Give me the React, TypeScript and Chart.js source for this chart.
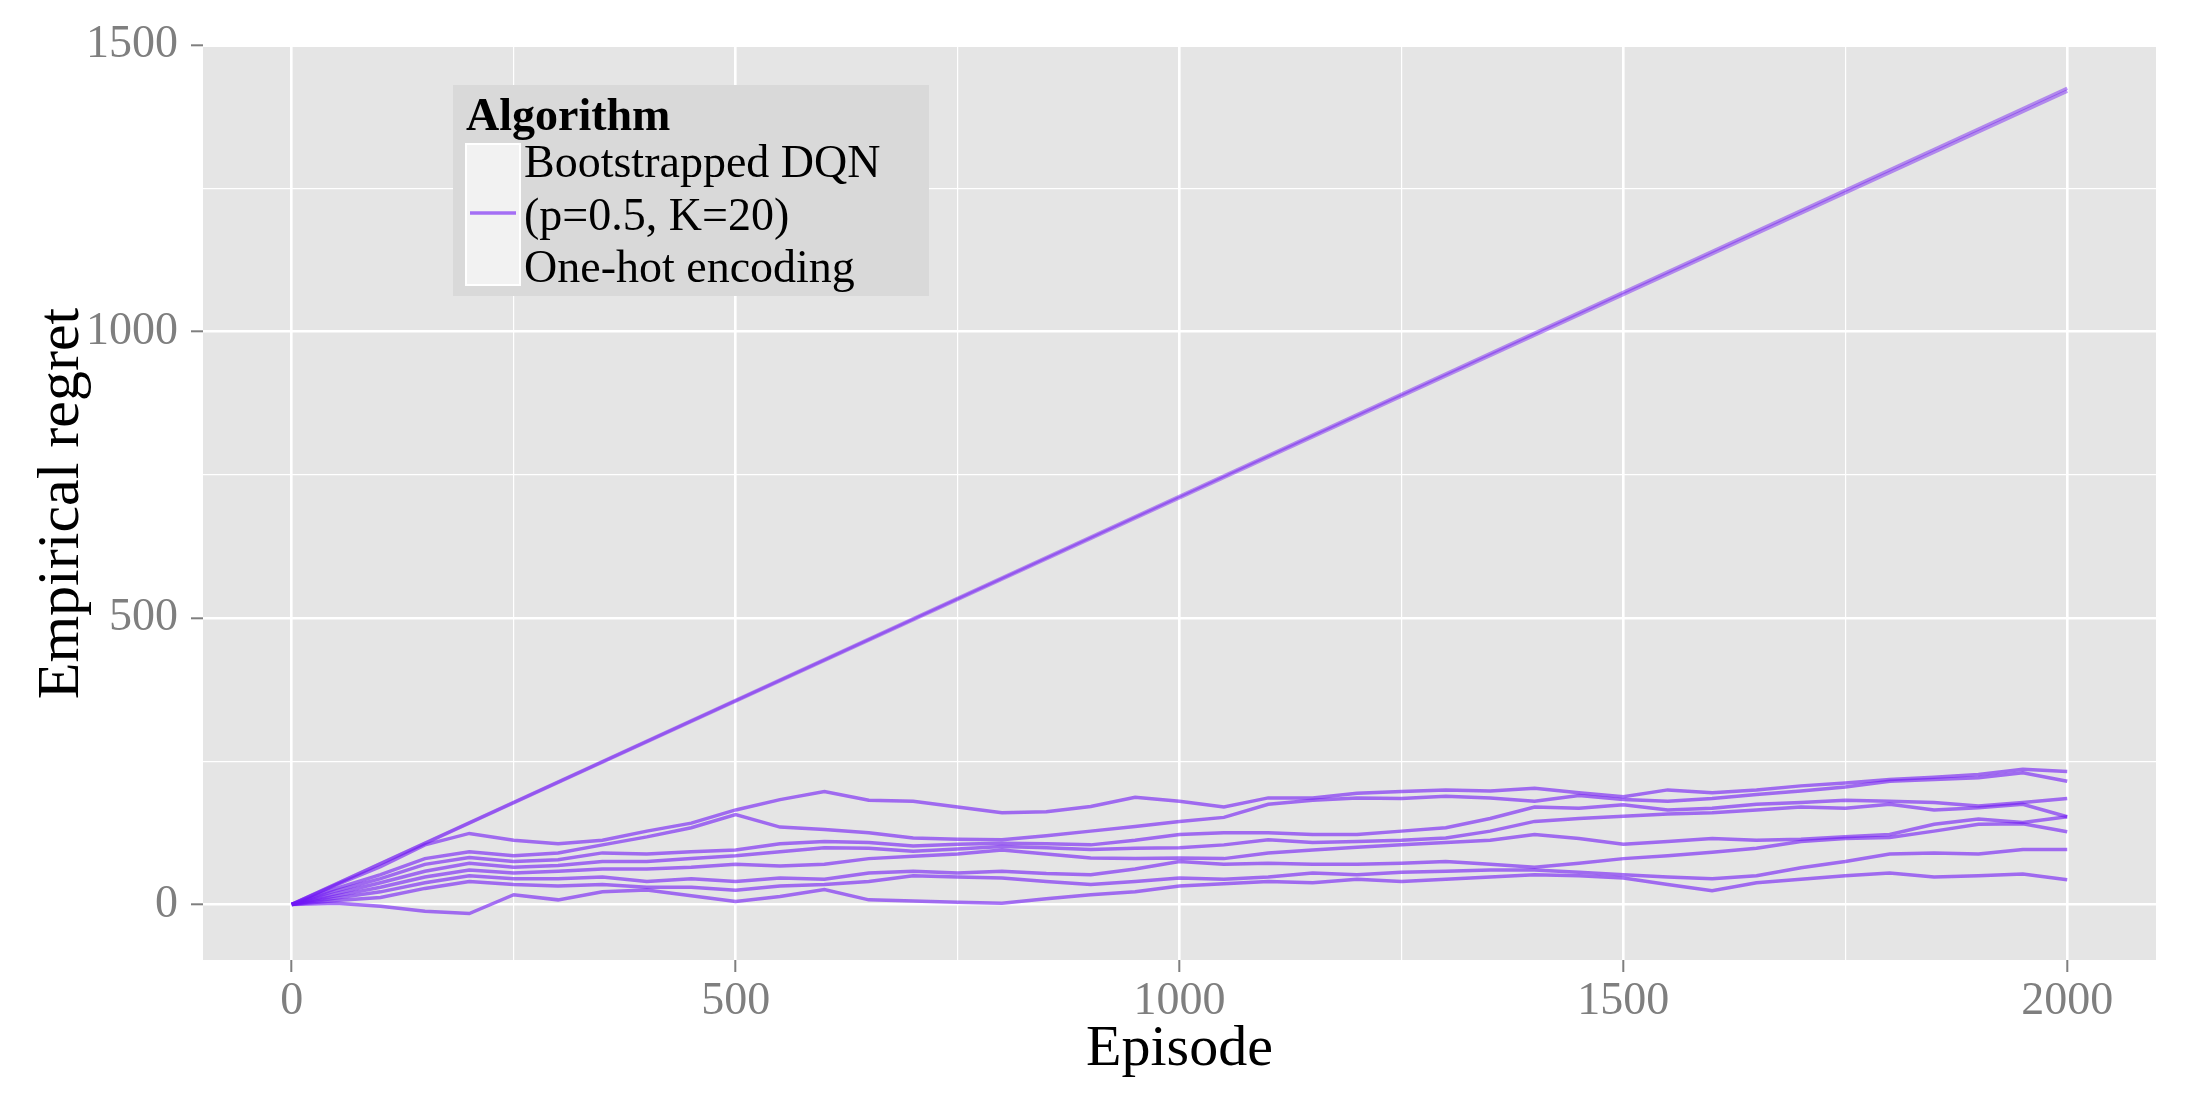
import React, { useEffect, useRef } from "react";
import { Chart, registerables } from "chart.js";

Chart.register(...registerables);

// episodes sampled every 50 steps
const episodes = [
  0, 50, 100, 150, 200, 250, 300, 350, 400, 450, 500, 550, 600, 650, 700, 750, 800, 850, 900, 950, 1000,
  1050, 1100, 1150, 1200, 1250, 1300, 1350, 1400, 1450, 1500, 1550, 1600, 1650, 1700, 1750, 1800, 1850,
  1900, 1950, 2000,
];

// cumulative regret of the eight seeds that learn
const run1 = [0, 34, 66, 104, 124, 112, 106, 112, 128, 142, 165, 183, 197, 182, 180, 170, 160, 162, 171, 187, 180, 170, 186, 186, 194, 197, 200, 198, 203, 195, 188, 200, 195, 200, 207, 212, 218, 222, 227, 236, 232];
const run2 = [0, 28, 52, 80, 92, 85, 90, 104, 118, 134, 157, 135, 131, 125, 116, 114, 113, 120, 128, 136, 145, 152, 175, 182, 186, 185, 189, 186, 180, 190, 183, 180, 185, 192, 198, 205, 215, 218, 221, 230, 215];
const run3 = [0, 24, 45, 70, 82, 75, 78, 90, 88, 92, 95, 106, 110, 108, 102, 105, 107, 106, 104, 112, 122, 125, 125, 122, 122, 128, 134, 150, 170, 168, 174, 165, 168, 175, 178, 182, 180, 178, 172, 178, 185];
const run4 = [0, 19, 38, 58, 72, 65, 68, 75, 75, 80, 85, 92, 99, 98, 93, 97, 101, 99, 96, 98, 99, 104, 113, 108, 110, 112, 116, 128, 145, 150, 154, 158, 160, 165, 170, 168, 175, 165, 169, 175, 153];
const run5 = [0, 15, 30, 48, 60, 55, 58, 62, 62, 65, 70, 67, 70, 80, 84, 88, 95, 88, 81, 80, 81, 80, 90, 95, 100, 104, 108, 112, 122, 115, 105, 110, 115, 112, 114, 118, 122, 140, 149, 143, 153];
const run6 = [0, 11, 22, 38, 50, 45, 45, 48, 40, 45, 40, 46, 44, 55, 58, 55, 58, 54, 52, 62, 75, 70, 72, 70, 70, 72, 75, 70, 65, 72, 80, 85, 91, 98, 110, 115, 117, 128, 140, 141, 127];
const run7 = [0, 7, 12, 28, 40, 35, 32, 35, 30, 30, 25, 32, 35, 40, 50, 48, 46, 40, 35, 40, 46, 44, 48, 55, 52, 56, 58, 60, 60, 56, 52, 48, 45, 50, 64, 75, 88, 90, 88, 96, 96];
const run8 = [0, 2, -3, -12, -16, 17, 8, 22, 25, 15, 5, 14, 26, 8, 6, 4, 2, 10, 17, 22, 32, 36, 40, 38, 44, 40, 44, 48, 52, 50, 46, 35, 24, 38, 44, 50, 55, 48, 50, 53, 43];

// the two seeds that never learn (regret grows linearly)
const linearEpisodes = [0, 2000];
const linearRunA = [0, 1425];
const linearRunB = [0, 1420];

const xTicks = [0, 250, 500, 750, 1000, 1250, 1500, 1750, 2000];
const xLabelled = [0, 500, 1000, 1500, 2000];
const yTicks = [0, 250, 500, 750, 1000, 1250, 1500];
const yLabelled = [0, 500, 1000, 1500];

const legendTitle = "Algorithm";
const legendLines = ["Bootstrapped DQN", "(p=0.5, K=20)", "One-hot encoding"];

const LINE_COLOR = "rgba(112, 24, 245, 0.6)";
const LINEAR_COLOR = "rgba(112, 24, 245, 0.45)";
const SERIF = "'Liberation Serif', 'Times New Roman', serif";

const panelBackground = {
  id: "panelBackground",
  beforeDraw(chart: Chart) {
    const { ctx, chartArea } = chart;
    ctx.save();
    ctx.fillStyle = "#e5e5e5";
    ctx.fillRect(chartArea.left, chartArea.top, chartArea.right - chartArea.left, chartArea.bottom - chartArea.top);
    ctx.restore();
  },
};

const ggLegend = {
  id: "ggLegend",
  afterDraw(chart: Chart) {
    const { ctx } = chart;
    ctx.save();
    ctx.fillStyle = "#d9d9d9";
    ctx.fillRect(453, 85, 476, 211);

    ctx.fillStyle = "#000";
    ctx.textBaseline = "alphabetic";
    ctx.textAlign = "left";
    ctx.font = `bold 46px ${SERIF}`;
    ctx.fillText(legendTitle, 466, 130);

    ctx.fillStyle = "#f2f2f2";
    ctx.fillRect(466, 144, 54, 141);
    ctx.strokeStyle = "#ffffff";
    ctx.lineWidth = 2;
    ctx.strokeRect(466, 144, 54, 141);

    ctx.strokeStyle = LINE_COLOR;
    ctx.lineWidth = 3.5;
    ctx.beginPath();
    ctx.moveTo(470, 213);
    ctx.lineTo(516, 213);
    ctx.stroke();

    ctx.fillStyle = "#000";
    ctx.font = `46px ${SERIF}`;
    const baselines = [177, 230, 282];
    legendLines.forEach((t, i) => ctx.fillText(t, 524, baselines[i]));
    ctx.restore();
  },
};

const App: React.FC = () => {
  const canvasRef = useRef<HTMLCanvasElement | null>(null);

  useEffect(() => {
    if (!canvasRef.current) return;

    const runs = [run1, run2, run3, run4, run5, run6, run7, run8];
    const walkSets = runs.map((run, i) => ({
      label: `seed ${i + 1}`,
      data: run.map((v, j) => ({ x: episodes[j], y: v })),
      borderColor: LINE_COLOR,
      borderWidth: 3.5,
      pointRadius: 0,
      tension: 0,
      fill: false,
    }));
    const linearSets = [linearRunA, linearRunB].map((run, i) => ({
      label: `seed ${9 + i}`,
      data: run.map((v, j) => ({ x: linearEpisodes[j], y: v })),
      borderColor: LINEAR_COLOR,
      borderWidth: 3.5,
      pointRadius: 0,
      tension: 0,
      fill: false,
    }));

    const chart = new Chart(canvasRef.current, {
      type: "line",
      data: { datasets: [...walkSets, ...linearSets] },
      options: {
        animation: false,
        responsive: true,
        maintainAspectRatio: false,
        layout: { padding: { top: 47, right: 44, left: 0, bottom: 0 } },
        plugins: { legend: { display: false }, tooltip: { enabled: false } },
        scales: {
          x: {
            type: "linear",
            min: -100,
            max: 2100,
            afterBuildTicks: (axis: any) => {
              axis.ticks = xTicks.map((v) => ({ value: v }));
            },
            afterFit: (axis: any) => {
              axis.height = 140;
            },
            border: { display: false },
            grid: {
              color: "#ffffff",
              lineWidth: (c: any) => (xLabelled.includes(c.tick?.value) ? 2.6 : 1.2),
              tickColor: (c: any) => (xLabelled.includes(c.tick?.value) ? "#7f7f7f" : "rgba(0,0,0,0)"),
              tickWidth: 2,
              tickLength: 12,
            },
            ticks: {
              autoSkip: false,
              maxRotation: 0,
              padding: 2,
              color: "#7f7f7f",
              font: { family: SERIF, size: 46 },
              callback: (v: any) => (xLabelled.includes(v) ? String(v) : ""),
            },
            title: {
              display: true,
              text: "Episode",
              color: "#000",
              font: { family: SERIF, size: 58 },
              padding: { top: 0, bottom: 15 },
            },
          },
          y: {
            type: "linear",
            min: -97,
            max: 1497,
            afterBuildTicks: (axis: any) => {
              axis.ticks = yTicks.map((v) => ({ value: v }));
            },
            afterFit: (axis: any) => {
              axis.width = 203;
            },
            border: { display: false },
            grid: {
              color: "#ffffff",
              lineWidth: (c: any) => (yLabelled.includes(c.tick?.value) ? 2.6 : 1.2),
              tickColor: (c: any) => (yLabelled.includes(c.tick?.value) ? "#7f7f7f" : "rgba(0,0,0,0)"),
              tickWidth: 2,
              tickLength: 12,
            },
            ticks: {
              autoSkip: false,
              padding: 13,
              color: "#7f7f7f",
              font: { family: SERIF, size: 46 },
              callback: (v: any) => (yLabelled.includes(v) ? String(v) : ""),
            },
            title: {
              display: true,
              text: "Empirical regret",
              color: "#000",
              font: { family: SERIF, size: 60 },
              padding: { top: 26, bottom: 0 },
            },
          },
        },
      },
      plugins: [panelBackground, ggLegend],
    });

    return () => {
      chart.destroy();
    };
  }, []);

  return (
    <div style={{ position: "absolute", left: 0, top: 0, width: 2200, height: 1100, background: "#fff" }}>
      <canvas ref={canvasRef} />
    </div>
  );
};

export default App;
